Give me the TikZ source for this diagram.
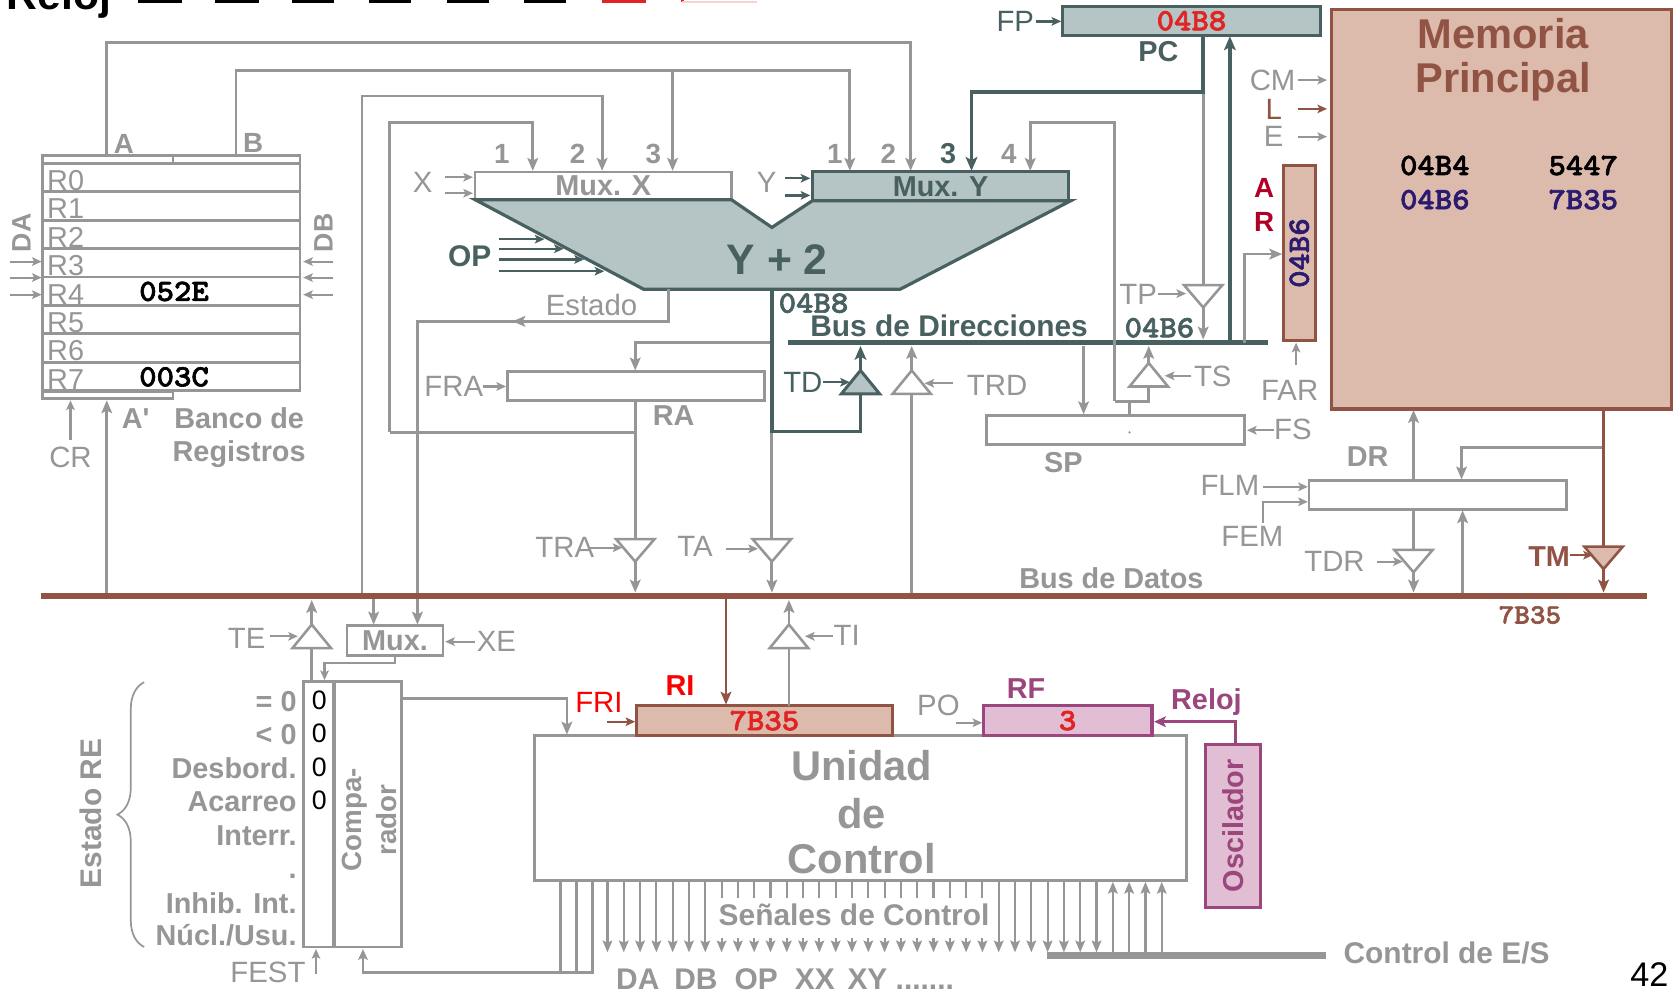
\documentclass[tikz,border=0pt]{standalone}
\usepackage{fontspec}
\setmainfont{Liberation Sans}
\newfontfamily\hexfont{lmmonolt10-bold.otf}[FakeBold=2,FakeStretch=1.07]
\usetikzlibrary{arrows.meta,calc,decorations.pathreplacing}
\definecolor{gc}{RGB}{150,150,150}
\definecolor{dk}{RGB}{72,96,96}
\definecolor{blf}{RGB}{181,196,196}
\definecolor{br}{RGB}{145,84,68}
\definecolor{mf}{RGB}{220,186,172}
\definecolor{pk}{RGB}{226,190,212}
\definecolor{pu}{RGB}{155,70,125}
\definecolor{rd}{RGB}{225,35,35}
\definecolor{rr}{RGB}{250,0,0}
\definecolor{drd}{RGB}{175,0,40}
\definecolor{nv}{RGB}{42,26,112}
\newcommand\myfs[1]{\fontsize{#1}{#1}\selectfont}
\tikzset{
  gl/.style={draw=gc, line width=2.6pt},
  ga/.style={gl, -{Stealth[length=12pt,width=10pt,inset=2.5pt]}},
  sa/.style={draw=gc, line width=2pt, -{Stealth[length=9pt,width=8pt,inset=2pt]}},
  sg/.style={draw=gc, line width=2pt, -{Stealth[length=11pt,width=9pt,inset=2pt]}},
  dl/.style={draw=dk, line width=3.2pt},
  da/.style={dl, -{Stealth[length=13pt,width=11pt,inset=3pt]}},
  dsa/.style={draw=dk, line width=2.2pt, -{Stealth[length=9pt,width=8pt,inset=2pt]}},
  bsa/.style={draw=br, line width=2.2pt, -{Stealth[length=9pt,width=8pt,inset=2pt]}},
  bx/.style={draw=gc, line width=2.6pt, anchor=north west, inner sep=0pt, outer sep=0pt},
  lab/.style={text=gc, font=\myfs{27.5}, inner sep=0pt},
  blab/.style={text=gc, font=\bfseries\myfs{27}, inner sep=0pt},
  hex/.style={font=\hexfont\myfs{29}, inner sep=0pt},
  gtri/.style={draw=gc, fill=white, line width=2.4pt, line join=miter},
  dtri/.style={draw=dk, fill=blf, line width=2.8pt, line join=miter},
  mtri/.style={draw=br, fill=mf, line width=2.4pt, line join=miter},
  pics/tdn/.style={code={\path[#1] (-18,0) -- (18,0) -- (0,21) -- cycle;}},
  pics/tup/.style={code={\path[#1] (-18,0) -- (18,0) -- (0,-22) -- cycle;}},
}
\begin{document}
\begin{tikzpicture}[x=1pt,y=-1pt]
\useasboundingbox (0,0) rectangle (1568,930);
\fill[white] (0,0) rectangle (1568,930);

% ---- Reloj strip (cut off)
\begin{scope}
\clip (0,0) rectangle (1568,930);
\node[anchor=base west, inner sep=0pt, font=\bfseries\myfs{40}] (rlj) at (6,9) {Reloj};
\foreach \a/\b in {131/169,203/241,275/312,347/384,420/457,492/529}
  \draw[line width=2.6pt] (\a,-20) -- (\a,1.5) -- (\b,1.5) -- (\b,-20);
\draw[rd, line width=2.6pt] (565,-20) -- (565,1.5) -- (604,1.5) -- (604,-20);
\draw[rd, line width=2.6pt] (639,-20) -- (639,1.5);
\draw[rd!20, line width=2pt] (639,1.5) -- (709,1.5);
\end{scope}

% ---- register bank
\draw[gl] (40,146) rectangle (281,153);
\draw[gl] (162,146) -- (162,153);
\foreach \i in {0,...,7}{
  \node[bx, minimum width=241pt, minimum height=26.6pt] (r\i) at (40,{153+26.6*\i}) {};
  \node[lab, anchor=base west, font=\myfs{27}] at (44,{178.5+26.6*\i}) {R\i};
}
\draw[gl] (40,367) rectangle (162,373);
\node[hex] (v4) at (163,273) {052E};
\node[hex] (v7) at (163,353) {003C};
\node[blab, rotate=90, font=\bfseries\myfs{25}] (dal) at (20,218) {DA};
\node[blab, rotate=90, font=\bfseries\myfs{25}] (dbl) at (303,218) {DB};
\foreach \y in {245,260,276}{
  \draw[sa] (9,\y) -- (39,\y);
  \draw[sa] (312,\y) -- (284,\y);
}
\node[blab, font=\bfseries\myfs{26}] (la) at (116,135) {A};
\node[blab, font=\bfseries\myfs{26}] (lb) at (237,134) {B};
\node[blab] (lap) at (127,392) {A\textquotesingle};
\node[blab, anchor=base] (banco) at (224,401) {Banco de};
\node[blab, anchor=base] (regs) at (224,432) {Registros};
\node[lab] (crl) at (66,428) {CR};
\draw[sa] (66,412) -- (66,375);
\draw[ga] (100,555) -- (100,375);

% ---- long feed lines
\draw[ga] (100,146) -- (100,40) -- (853,40) -- (853,160);
\draw[ga] (221,146) -- (221,66) -- (796,66) -- (796,160);
\draw[ga] (630,66) -- (630,160);
\draw[ga] (339,555) -- (339,90) -- (564,90) -- (564,160);
\draw[ga] (365,405) -- (365,115) -- (499,115) -- (499,160);

% ---- Mux X / ALU / Mux Y
\node[bx, minimum width=240pt, minimum height=26pt, text=gc, font=\bfseries\myfs{27}] (mx) at (445,161) {Mux. X};
\node[bx, draw=dk, fill=blf, line width=3pt, minimum width=240pt, minimum height=27pt, text=dk, font=\bfseries\myfs{27}] (my) at (761,161) {Mux. Y};
\draw[dk, fill=blf, line width=3pt, line join=miter] (445,187) -- (603,271) -- (843,271) -- (1003,188) -- (761,188) -- (723,213) -- (685,187) -- cycle;
\foreach \t/\x in {1/470,2/541,3/612} \node[blab, font=\bfseries\myfs{26}] at (\x,144) {\t};
\node[blab, font=\bfseries\myfs{26}] (m1) at (782,144) {1};
\node[blab, font=\bfseries\myfs{26}] (m2) at (832,144) {2};
\node[blab, text=dk, font=\bfseries\myfs{27}] (m3) at (888,144) {3};
\node[blab, font=\bfseries\myfs{26}] (m4) at (945,144) {4};
\node[lab] (xl) at (396,171) {X};
\draw[sa] (417,166) -- (443,166);
\draw[sa] (417,181) -- (443,181);
\node[lab] (yl) at (718,171) {Y};
\draw[dsa] (735,167) -- (759,167);
\draw[dsa] (735,183) -- (759,183);
\node[text=dk, font=\bfseries\myfs{40}] (alut) at (728,243) {Y + 2};
\node[text=dk, font=\bfseries\myfs{28}] (opl) at (440,240) {OP};
\foreach \y/\e in {224/510,233/528,243/547,254/566} \draw[dsa] (467,\y) -- (\e,\y);

% ---- Estado
\draw[ga] (626,271) -- (626,301) -- (391,301) -- (391,585);
\draw[ga] (500,301) -- (480,301);
\node[lab] (estl) at (554,286) {Estado};

% ---- ALU output, RA
\draw[gl] (723,404) -- (723,505);
\draw[ga] (723,321) -- (595,321) -- (595,347);
\draw[dl] (723,271) -- (723,404) -- (806,404) -- (806,369);
\pic at (806,369) {tup=dtri};
\draw[da] (806,347) -- (806,324);
\node[bx, minimum width=241pt, minimum height=27pt] (ra) at (475,348) {};
\node[blab] (ral) at (631,389) {RA};
\node[lab] (fral) at (425,362) {FRA};
\draw[sa] (452,362) -- (474,362);
\draw[gl] (595,375) -- (595,505);
\draw[gl] (595,405) -- (365,405);
\pic at (595,505) {tdn=gtri};
\draw[ga] (595,526) -- (595,555);
\node[lab] (tral) at (529,513) {TRA};
\draw[sa] (553,513) -- (583,513);
\pic at (723,505) {tdn=gtri};
\draw[ga] (723,526) -- (723,555);
\node[lab] (tal) at (651,512) {TA};
\draw[sa] (680,514) -- (710,514);
\node[text=dk, font=\myfs{27.5}, inner sep=0pt] (tdl) at (752,358) {TD};
\draw[dsa] (771,358) -- (796,358);
\draw[gl] (854,369) -- (854,555);
\pic at (854,369) {tup=gtri};
\draw[ga] (854,347) -- (854,324);
\node[lab] (trdl) at (934,361) {TRD};
\draw[sa] (893,359) -- (866,359);

% ---- PC
\draw[gl] (1127,86) -- (1127,267);
\pic at (1127,267) {tdn=gtri};
\draw[ga] (1127,288) -- (1127,318);
\node[lab] (tpl) at (1066,276) {TP};
\draw[sa] (1085,275) -- (1111,275);
\node[bx, draw=dk, fill=blf, line width=3pt, minimum width=242pt, minimum height=27pt, hex, text=rd] (pc) at (995,6) {04B8};
\node[text=dk, font=\myfs{27.5}, inner sep=0pt] (fpl) at (951,20) {FP};
\draw[dsa] (970,20) -- (994,20);
\node[text=dk, font=\bfseries\myfs{27}] (pcl) at (1085,48) {PC};
\draw[da] (1127,33) -- (1127,86) -- (910,86) -- (910,160);
\draw[da] (1152,319) -- (1152,34);

% ---- address bus
\draw[dk, line width=4.6pt] (738,321) -- (1188,321);
\node[text=dk, font=\bfseries\myfs{28}, anchor=base, inner sep=0pt] (bdd) at (889,315) {Bus de Direcciones};
\node[hex, text=dk] (a1) at (762,284) {04B8};
\node[hex, text=dk] (a2) at (1086,307) {04B6};

% ---- SP
\node[bx, minimum width=242pt, minimum height=27pt] (sp) at (924,389) {};
\fill[gc] (1058,405) circle (1.2pt);
\node[blab] (spl) at (996,433) {SP};
\node[lab] (fsl) at (1211,402) {FS};
\draw[sa] (1193,403) -- (1168,403);
\draw[ga] (1015,324) -- (1015,388);
\draw[gl] (1058,389) -- (1058,376);
\draw[gl] (1044,376) -- (1076,376) -- (1076,362);
\pic at (1076,362) {tup=gtri};
\draw[ga] (1076,340) -- (1076,324);
\draw[ga] (1044,376) -- (1044,115) -- (965,115) -- (965,160);
\node[lab] (tsl) at (1136,353) {TS};
\draw[sa] (1116,352) -- (1091,352);

% ---- Memory
\node[bx, draw=br, fill=mf, line width=3pt, minimum width=319pt, minimum height=374pt] (mem) at (1247,9) {};
\node[text=br, font=\bfseries\myfs{39}, anchor=base] (mt1) at (1408,45) {Memoria};
\node[text=br, font=\bfseries\myfs{39}, anchor=base] (mt2) at (1408,87) {Principal};
\node[hex] at (1344,155) {04B4};
\node[hex] at (1483,155) {5447};
\node[hex, text=nv] at (1344,187) {04B6};
\node[hex, text=nv] at (1483,187) {7B35};
\node[lab] (cml) at (1192,75) {CM};
\draw[sa] (1216,75) -- (1243,75);
\node[lab, text=br] (ll) at (1193,102) {L};
\draw[bsa] (1216,102) -- (1243,102);
\node[lab] (el) at (1193,128) {E};
\draw[sa] (1216,128) -- (1243,128);
\node[bx, draw=br, fill=mf, line width=3pt, minimum width=30pt, minimum height=164pt] (ar) at (1202,155) {};
\node[hex, text=nv, rotate=90] at (ar.center) {04B6};
\node[text=drd, font=\bfseries\myfs{26}] at (1184,176) {A};
\node[text=drd, font=\bfseries\myfs{26}] at (1184,208) {R};
\draw[ga] (1166,321) -- (1166,238) -- (1201,238);
\draw[sa] (1214,342) -- (1214,321);
\node[lab] (farl) at (1208,366) {FAR};

% ---- DR
\node[bx, minimum width=241pt, minimum height=27pt] (dr) at (1226,450) {};
\node[blab] at (1281,428) {DR};
\draw[ga] (1324,450) -- (1324,384);
\draw[ga] (1502,419) -- (1369,419) -- (1369,449);
\draw[br, line width=2.6pt] (1502,384) -- (1502,512);
\pic at (1502,512) {tdn=mtri};
\draw[br, line width=2.6pt, -{Stealth[length=12pt,width=10pt,inset=2.5pt]}] (1502,533) -- (1502,555);
\node[text=br, font=\bfseries\myfs{27}] at (1451,521) {TM};
\draw[bsa] (1471,520) -- (1492,520);
\draw[gl] (1324,477) -- (1324,515);
\pic at (1324,515) {tdn=gtri};
\draw[ga] (1324,536) -- (1324,555);
\draw[ga] (1370,555) -- (1370,478);
\node[lab] at (1250,526) {TDR};
\draw[sa] (1290,526) -- (1314,526);
\node[lab] at (1152,455) {FLM};
\draw[sa] (1183,456) -- (1225,456);
\node[lab] at (1173,502) {FEM};
\draw[sa] (1183,490) -- (1183,470) -- (1225,470);

% ---- below bus, left
\pic at (292,607) {tup=gtri};
\draw[ga] (292,585) -- (292,562);
\draw[gl] (292,607) -- (292,638);
\node[lab] at (231,598) {TE};
\draw[sa] (253,596) -- (279,596);
\node[bx, minimum width=90pt, minimum height=28pt, text=gc, font=\bfseries\myfs{27}] (mux2) at (325,586) {Mux.};
\draw[ga] (350,561) -- (350,585);
\node[lab] at (465,601) {XE};
\draw[sa] (445,601) -- (417,601);
\draw[sa] (370,614) -- (370,621) -- (304,621) -- (304,637);
\node[bx, minimum width=28pt, minimum height=249pt] (sr) at (284,638) {};
\node[bx, minimum width=63pt, minimum height=249pt] (cmp) at (313,638) {};
\foreach \y in {656,687,719,750} \node[font=\myfs{25}, inner sep=0pt] at (299,\y) {0};
\node[blab, anchor=base east] at (278,666) {= 0};
\node[blab, anchor=base east] at (278,697) {< 0};
\node[blab, anchor=base east] at (278,729) {Desbord.};
\node[blab, anchor=base east] at (278,760) {Acarreo};
\node[blab, anchor=base east] at (278,792) {Interr.};
\node[blab, anchor=base east] at (278,823) {.};
\node[blab, anchor=base east] at (278,856) {Inhib. Int.};
\node[blab, anchor=base east] at (278,886) {Núcl./Usu.};
\node[text=gc, font=\bfseries\fontsize{26}{33}\selectfont, rotate=90, align=center, inner sep=0pt] (cmpt) at (346,768) {Compa-\\rador};
\draw[gc, line width=1.6pt, decorate, decoration={brace, amplitude=25pt}] (135,887) -- (135,639);
\node[blab, rotate=90, font=\bfseries\myfs{28}] (ere) at (85,762) {Estado RE};
\node[lab] at (251,911) {FEST};
\draw[sa] (296,912) -- (296,889);
\foreach \x in {525,540,555} \draw[gl] (\x,825) -- (\x,911);
\draw[gl, -{Stealth[length=10pt,width=9pt,inset=2pt]}] (556,911) -- (340,911) -- (340,889);
\draw[ga] (376,654) -- (531,654) -- (531,688);

% ---- control unit
\node[bx, minimum width=610pt, minimum height=136pt] (uc) at (501,689) {};
\node[text=gc, font=\bfseries\myfs{39}, anchor=base] at (807,731) {Unidad};
\node[text=gc, font=\bfseries\myfs{39}, anchor=base] at (807,776) {de};
\node[text=gc, font=\bfseries\myfs{39}, anchor=base] at (807,818) {Control};
\node[bx, draw=br, fill=mf, line width=3pt, minimum width=240pt, minimum height=28pt, hex, text=rd] (ri) at (596,661) {7B35};
\node[text=rr, font=\bfseries\myfs{27}] at (637,642) {RI};
\node[text=rr, font=\myfs{27.5}] at (561,658) {FRI};
\draw[bsa] (569,676) -- (595,676);
\draw[br, line width=2.4pt, -{Stealth[length=12pt,width=10pt,inset=2.5pt]}] (680,561) -- (680,660);
\draw[gl] (739,661) -- (739,607);
\pic at (739,607) {tup=gtri};
\draw[ga] (739,585) -- (739,562);
\node[lab] at (793,595) {TI};
\draw[sa] (780,596) -- (754,596);
\node[lab] at (879,661) {PO};
\draw[sa] (895,677) -- (920,677);
\node[bx, draw=pu, fill=pk, line width=3pt, minimum width=158pt, minimum height=28pt, hex, text=rd] (rf) at (921,661) {3};
\node[text=pu, font=\bfseries\myfs{27}] at (961,645) {RF};
\node[bx, draw=pu, fill=pk, line width=3pt, minimum width=52pt, minimum height=153pt] (osc) at (1129,697) {};
\node[text=pu, font=\bfseries\myfs{27}, rotate=90] at (osc.center) {Oscilador};
\draw[pu, line width=2.4pt, -{Stealth[length=11pt,width=10pt,inset=2.5pt]}] (1157,697) -- (1157,676) -- (1081,676);
\node[text=pu, font=\bfseries\myfs{27}, anchor=base] at (1130,665) {Reloj};

% ---- control signals
\foreach \k in {0,...,30} \draw[sg] ({569+15.27*\k},825) -- ({569+15.27*\k},892);
\foreach \k in {31,...,34} \draw[sg] ({569+15.27*\k},893) -- ({569+15.27*\k},826);
\draw[gc, line width=6pt] (981,895) -- (1242,895);
\fill[white] (671,841) rectangle (929,879);
\node[blab, font=\bfseries\myfs{28}] (sdc) at (800,857) {Señales de Control};
\node[blab, anchor=base west, font=\bfseries\myfs{28}] (sigs) at (577,927) {DA\hspace{14pt}DB\hspace{16pt}OP\hspace{16pt}XX\hspace{12pt}XY .......};
\node[blab, font=\bfseries\myfs{28}] (ces) at (1355,893) {Control de E/S};
\node[font=\myfs{32}, anchor=base] (pg) at (1545,924) {42};

% ---- data bus
\draw[br, line width=6pt] (38,558) -- (1543,558);
\node[blab, anchor=base] at (1041,551) {Bus de Datos};
\node[hex, text=br, font=\hexfont\myfs{26}] at (1433,576) {7B35};
\end{tikzpicture}
\end{document}
